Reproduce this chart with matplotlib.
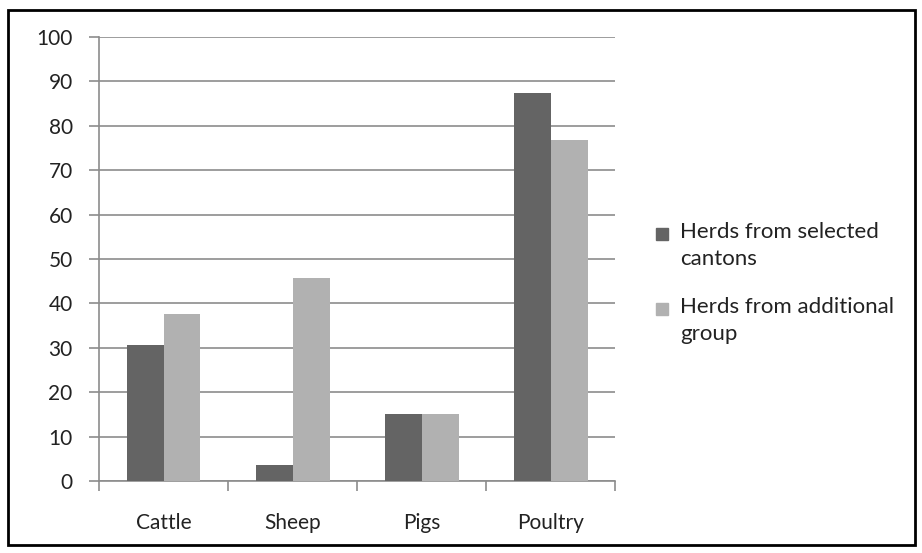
import numpy as np
import matplotlib.pyplot as plt
from matplotlib.patches import Rectangle

plt.rcParams['font.family'] = ['Lato', 'DejaVu Sans']

# animal categories and share of herds (%)
categorias = ['Cattle', 'Sheep', 'Pigs', 'Poultry']
seleccionados = [30.6, 3.6, 15.1, 87.5]
adicionales = [37.6, 45.8, 15.1, 76.8]
series = ['Herds from selected\ncantons', 'Herds from additional\ngroup']

oscuro = '#646464'
claro = '#b1b1b1'
gris = '#8c8c8c'
texto = '#222222'

fig = plt.figure(figsize=(9.22, 5.53), dpi=100)
ax = fig.add_axes([0.1074, 0.130, 0.560, 0.803])

x = np.arange(len(categorias))
ancho = 0.286
ax.bar(x - ancho / 2, seleccionados, ancho, color=oscuro, zorder=3)
ax.bar(x + ancho / 2, adicionales, ancho, color=claro, zorder=3)

ax.set_xlim(-0.5, len(categorias) - 0.5)
ax.set_ylim(0, 100)
ax.set_yticks(range(0, 101, 10))
ax.yaxis.grid(True, color=gris, linewidth=1.2, zorder=0)

ax.set_xticks(x)
ax.set_xticklabels(categorias)
ax.set_xticks(np.arange(-0.5, len(categorias), 1), minor=True)
ax.tick_params(axis='x', which='major', length=0, pad=23, labelsize=15, colors=texto)
ax.tick_params(axis='x', which='minor', length=7, width=1.2, color=gris)
ax.tick_params(axis='y', length=7, width=1.2, color=gris, labelsize=15, labelcolor=texto, pad=12)

for lado in ['top', 'right']:
    ax.spines[lado].set_visible(False)
for lado in ['left', 'bottom']:
    ax.spines[lado].set_color(gris)
    ax.spines[lado].set_linewidth(1.2)

# leyenda a mano: cuadrito alineado con la primera linea
W, H = 922, 553
for i, (nombre, color) in enumerate(zip(series, [oscuro, claro])):
    arriba = 227 + i * 75
    fig.patches.append(Rectangle((656 / W, 1 - (arriba + 13) / H), 12 / W, 12 / H,
                                 transform=fig.transFigure, color=color))
    fig.text(680 / W, 1 - (arriba - 5) / H, nombre, fontsize=16, color=texto,
             va='top', ha='left', linespacing=1.45)

# marco exterior
fig.patches.append(Rectangle((0.009, 0.014), 0.983, 0.968, transform=fig.transFigure,
                             fill=False, edgecolor='black', linewidth=2))

fig.savefig('out.png', dpi=100)
